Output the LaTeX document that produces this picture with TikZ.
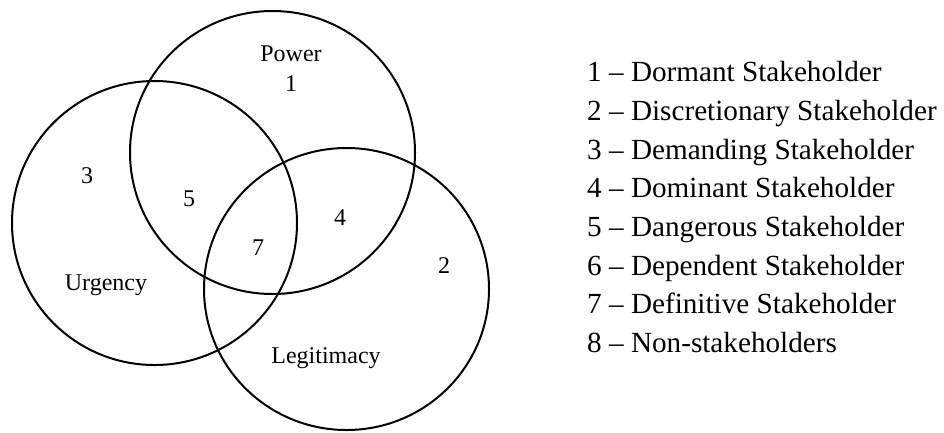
\documentclass[tikz,border=0pt]{standalone}
\usepackage{fontspec}
\setmainfont{Liberation Serif}
\begin{document}
\begin{tikzpicture}[x=1pt,y=-1pt,
  ring/.style={draw=black,line width=2pt},
  lab/.style={anchor=base,inner sep=0pt,font=\fontsize{24}{28}\selectfont},
  leg/.style={anchor=base west,inner sep=0pt,font=\fontsize{29.2}{34}\selectfont}]
\useasboundingbox (0,0) rectangle (944,432);
\draw[ring] (272.5,152.5) ellipse [x radius=142.5,y radius=141.5];
\draw[ring] (154.5,223) ellipse [x radius=142.5,y radius=142];
\draw[ring] (346.5,289) ellipse [x radius=142.5,y radius=141];
\node[lab] (power) at (291,61) {Power};
\node[lab] (n1) at (291,91) {1};
\node[lab] (n3) at (87,183) {3};
\node[lab] (n5) at (189,206) {5};
\node[lab] (n7) at (258,255) {7};
\node[lab] (n4) at (340,225) {4};
\node[lab] (n2) at (444,273) {2};
\node[lab] (urg) at (106,290) {Urgency};
\node[lab] (legit) at (326,363) {Legitimacy};
\node[leg] (l1) at (587,81.7) {1 – Dormant Stakeholder};
\node[leg] (l2) at (587,120.4) {2 – Discretionary Stakeholder};
\node[leg] (l3) at (587,159.1) {3 – Demanding Stakeholder};
\node[leg] (l4) at (587,197.8) {4 – Dominant Stakeholder};
\node[leg] (l5) at (587,236.5) {5 – Dangerous Stakeholder};
\node[leg] (l6) at (587,275.2) {6 – Dependent Stakeholder};
\node[leg] (l7) at (587,313.9) {7 – Definitive Stakeholder};
\node[leg] (l8) at (587,352.6) {8 – Non-stakeholders};
\end{tikzpicture}
\end{document}
